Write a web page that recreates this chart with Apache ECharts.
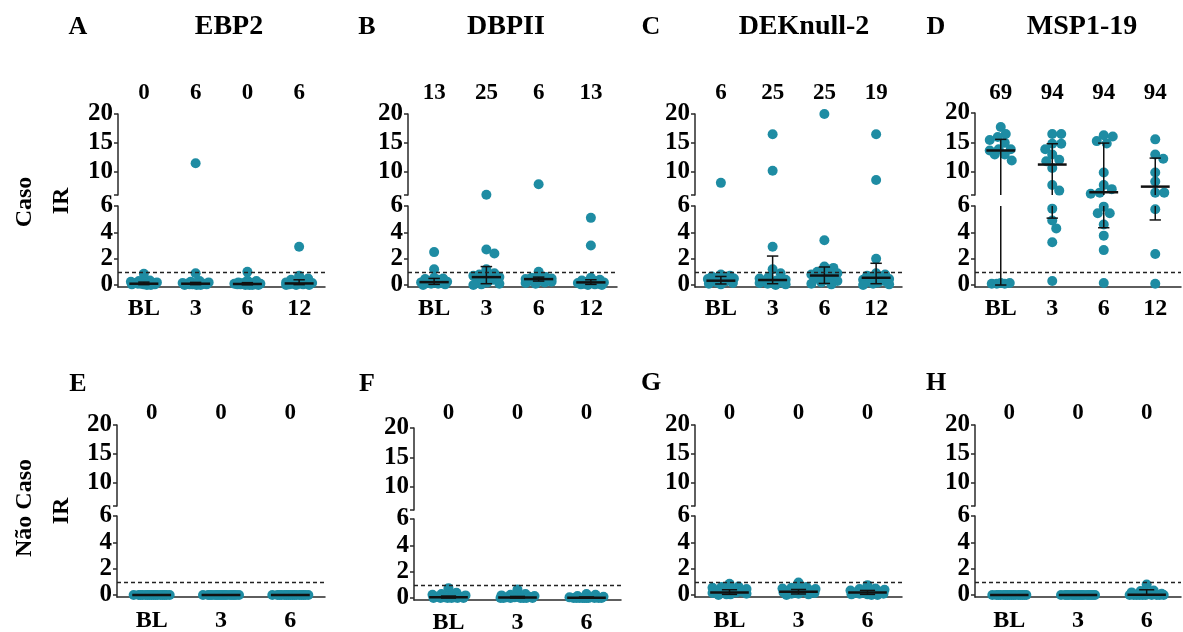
<!DOCTYPE html>
<html><head><meta charset="utf-8">
<script src="https://cdn.jsdelivr.net/npm/echarts@6/dist/echarts.min.js"></script>
<style>html,body{margin:0;padding:0;background:#fff}#c{width:1183px;height:632px}</style>
</head><body><div id="c"></div>
<script>
// ---------------- data ----------------
const cats4 = ['BL', '3', '6', '12'];
const cats3 = ['BL', '3', '6'];
const titleA = 'EBP2', titleB = 'DBPII', titleC = 'DEKnull-2', titleD = 'MSP1-19';
const rowLabelTop = 'Caso', rowLabelBottom = 'Não Caso', yLabel = 'IR';

const pctA = [0, 6, 0, 6];
const pctB = [13, 25, 6, 13];
const pctC = [6, 25, 25, 19];
const pctD = [69, 94, 94, 94];
const pctE = [0, 0, 0];
const pctF = [0, 0, 0];
const pctG = [0, 0, 0];
const pctH = [0, 0, 0];

// A - EBP2 (Caso)
const A_BL = [0.85, 0.35, 0.3, 0.25, 0.2, 0.2, 0.15, 0.15, 0.1, 0.1, 0.1, 0.05, 0.05, 0.05, 0, 0];
const A_3  = [11.5, 0.9, 0.3, 0.25, 0.2, 0.15, 0.15, 0.1, 0.1, 0.1, 0.05, 0.05, 0.05, 0, 0, 0];
const A_6  = [1.0, 0.35, 0.3, 0.2, 0.15, 0.15, 0.1, 0.1, 0.1, 0.05, 0.05, 0.05, 0, 0, 0, 0];
const A_12 = [2.9, 0.7, 0.5, 0.4, 0.3, 0.25, 0.2, 0.15, 0.15, 0.1, 0.1, 0.05, 0.05, 0, 0, 0];
const medA = [0.1, 0.1, 0.08, 0.12], q1A = [0.03, 0.03, 0.02, 0.03], q3A = [0.22, 0.2, 0.18, 0.4];

// B - DBPII (Caso)
const B_BL = [2.5, 1.2, 0.55, 0.5, 0.45, 0.4, 0.3, 0.25, 0.2, 0.2, 0.15, 0.15, 0.1, 0.1, 0.05, 0];
const B_3  = [6.05, 2.7, 2.4, 1.2, 0.9, 0.8, 0.75, 0.7, 0.6, 0.55, 0.4, 0.35, 0.2, 0.1, 0.05, 0];
const B_6  = [7.85, 1.0, 0.6, 0.55, 0.5, 0.5, 0.45, 0.4, 0.4, 0.35, 0.3, 0.3, 0.25, 0.2, 0.15, 0.1];
const B_12 = [5.1, 3.0, 0.55, 0.4, 0.35, 0.3, 0.25, 0.2, 0.15, 0.15, 0.1, 0.1, 0.05, 0.05, 0, 0];
const medB = [0.22, 0.6, 0.45, 0.2], q1B = [0.05, 0.1, 0.3, 0.05], q3B = [0.5, 1.4, 0.6, 0.4];

// C - DEKnull-2 (Caso)
const C_BL = [8.1, 0.8, 0.7, 0.65, 0.6, 0.55, 0.5, 0.45, 0.4, 0.35, 0.3, 0.25, 0.2, 0.15, 0.1, 0.05];
const C_3  = [16.5, 10.2, 2.9, 1.2, 0.9, 0.6, 0.5, 0.4, 0.35, 0.3, 0.25, 0.2, 0.15, 0.1, 0.05, 0];
const C_6  = [20, 3.4, 1.4, 1.3, 1.0, 0.95, 0.9, 0.8, 0.7, 0.6, 0.5, 0.4, 0.3, 0.2, 0.1, 0.05];
const C_12 = [16.5, 8.6, 2.0, 0.9, 0.8, 0.7, 0.6, 0.5, 0.45, 0.4, 0.3, 0.25, 0.2, 0.1, 0.05, 0];
const medC = [0.33, 0.38, 0.72, 0.55], q1C = [0.08, 0.1, 0.12, 0.1], q3C = [0.65, 2.2, 1.37, 1.65];

// D - MSP1-19 (Caso)
const D_BL = [17.6, 16.4, 15.9, 15.4, 14.9, 13.8, 13.8, 13.6, 12.9, 12.9, 11.9, 0.15, 0.15, 0.1, 0.1, 0.1];
const D_3  = [16.4, 16.4, 14.75, 14.75, 13.8, 12.9, 12.0, 11.75, 10.6, 7.7, 6.75, 5.8, 4.9, 4.3, 3.25, 0.3];
const D_6  = [16.2, 16.0, 15.2, 14.8, 9.85, 7.7, 7.0, 6.4, 6.2, 5.95, 5.45, 5.45, 4.6, 3.75, 2.65, 0.15];
const D_12 = [15.5, 12.9, 12.2, 9.85, 8.3, 6.4, 6.4, 5.75, 2.35, 0.1];
const medD = [13.6, 11.2, 6.47, 7.43], q1D = [0, 5.08, 4.35, 4.94], q3D = [15.5, 14.75, 14.86, 12.3];

// E - EBP2 (Não Caso)
const E_BL = [0, 0, 0, 0, 0, 0, 0, 0, 0, 0, 0, 0, 0, 0, 0, 0];
const E_3  = [0, 0, 0, 0, 0, 0, 0, 0, 0, 0, 0, 0, 0, 0, 0, 0];
const E_6  = [0, 0, 0, 0, 0, 0, 0, 0, 0, 0, 0, 0, 0, 0, 0, 0];
const medE = [0, 0, 0], q1E = [0, 0, 0], q3E = [0, 0, 0];

// F - DBPII (Não Caso)
const F_BL = [0.75, 0.4, 0.3, 0.25, 0.2, 0.15, 0.1, 0.1, 0.05, 0.05, 0, 0, 0, 0, 0, 0];
const F_3  = [0.65, 0.3, 0.25, 0.2, 0.15, 0.1, 0.1, 0.05, 0.05, 0, 0, 0, 0, 0, 0, 0];
const F_6  = [0.3, 0.25, 0.15, 0.1, 0.05, 0.05, 0, 0, 0, 0, 0, 0, 0, 0, 0, 0];
const medF = [0.05, 0.04, 0.02], q1F = [0, 0, 0], q3F = [0.15, 0.12, 0.08];

// G - DEKnull-2 (Não Caso)
const G_BL = [0.85, 0.65, 0.6, 0.55, 0.45, 0.4, 0.35, 0.3, 0.25, 0.2, 0.15, 0.15, 0.1, 0.05, 0.05, 0];
const G_3  = [0.95, 0.6, 0.55, 0.5, 0.45, 0.4, 0.35, 0.3, 0.3, 0.25, 0.2, 0.15, 0.1, 0.1, 0.05, 0];
const G_6  = [0.75, 0.5, 0.45, 0.4, 0.35, 0.3, 0.25, 0.2, 0.2, 0.15, 0.1, 0.1, 0.05, 0.05, 0, 0];
const medG = [0.2, 0.25, 0.2], q1G = [0.05, 0.08, 0.05], q3G = [0.4, 0.42, 0.35];

// H - MSP1-19 (Não Caso)
const H_BL = [0, 0, 0, 0, 0, 0, 0, 0, 0, 0, 0, 0, 0, 0, 0, 0];
const H_3  = [0, 0, 0, 0, 0, 0, 0, 0, 0, 0, 0, 0, 0, 0, 0, 0];
const H_6  = [0.8, 0.35, 0.3, 0.2, 0.1, 0.05, 0, 0, 0, 0, 0, 0, 0, 0, 0, 0];
const medH = [0, 0, 0.03], q1H = [0, 0, 0], q3H = [0, 0, 0.4];

const threshold = 1;
const topTicks = [6, 10, 15, 20], topLabels = [10, 15, 20];
const botTicks = [0, 2, 4, 6];
const breakValue = 6, topMax = 20;

// ---------------- assembly ----------------
const panels = [
  {letter: 'A', title: titleA, cats: cats4, pct: pctA, cols: [A_BL, A_3, A_6, A_12], med: medA, q1: q1A, q3: q3A},
  {letter: 'B', title: titleB, cats: cats4, pct: pctB, cols: [B_BL, B_3, B_6, B_12], med: medB, q1: q1B, q3: q3B},
  {letter: 'C', title: titleC, cats: cats4, pct: pctC, cols: [C_BL, C_3, C_6, C_12], med: medC, q1: q1C, q3: q3C},
  {letter: 'D', title: titleD, cats: cats4, pct: pctD, cols: [D_BL, D_3, D_6, D_12], med: medD, q1: q1D, q3: q3D},
  {letter: 'E', title: '', cats: cats3, pct: pctE, cols: [E_BL, E_3, E_6], med: medE, q1: q1E, q3: q3E},
  {letter: 'F', title: '', cats: cats3, pct: pctF, cols: [F_BL, F_3, F_6], med: medF, q1: q1F, q3: q3F},
  {letter: 'G', title: '', cats: cats3, pct: pctG, cols: [G_BL, G_3, G_6], med: medG, q1: q1G, q3: q3G},
  {letter: 'H', title: '', cats: cats3, pct: pctH, cols: [H_BL, H_3, H_6], med: medH, q1: q1H, q3: q3H}
];

// layout (pixels)
const layout = [
  {left: 118, right: 325, top: [114, 195], bot: [206, 287], pctDy: -21, labMargin: 10, letterXY: [78, 27], titleXY: [229, 27]},
  {left: 408, right: 617, top: [114, 195], bot: [206, 287], pctDy: -21, labMargin: 10, letterXY: [367, 27], titleXY: [506, 27]},
  {left: 695, right: 902, top: [114, 195], bot: [206, 287], pctDy: -21, labMargin: 10, letterXY: [651, 27], titleXY: [804, 27]},
  {left: 975, right: 1181, top: [113, 195], bot: [206, 287], pctDy: -20, labMargin: 10, letterXY: [936, 27], titleXY: [1082, 27]},
  {left: 117, right: 325, top: [425, 506], bot: [516, 597], pctDy: -12, labMargin: 12, letterXY: [78, 384]},
  {left: 414, right: 621, top: [428, 510], bot: [519, 600], pctDy: -15, labMargin: 11, letterXY: [367, 384]},
  {left: 695, right: 902, top: [425, 506], bot: [516, 597], pctDy: -12, labMargin: 12, letterXY: [651, 383]},
  {left: 975, right: 1181, top: [425, 506], bot: [516, 597], pctDy: -12, labMargin: 12, letterXY: [936, 383]}
];
const BOT_MIN = -0.15;
const FONT = '"Liberation Serif","Times New Roman",serif';
const TEAL = '#1e8ca3';
const AXC = '#2a2a2a';
const SYM = 10;

const chart = echarts.init(document.getElementById('c'), null, {renderer: 'canvas'});

function errRender(lo, hi) {
  return function (params, api) {
    const i = api.value(0), med = api.value(1), q1 = api.value(2), q3 = api.value(3);
    const cw = api.size([1, 0])[0];
    const ch = [];
    const ls = {stroke: '#111', lineWidth: 1.5};
    const a = Math.max(q1, lo), b = Math.min(q3, hi);
    if (b > a) {
      const p1 = api.coord([i, a]), p2 = api.coord([i, b]);
      ch.push({type: 'line', shape: {x1: p1[0], y1: p1[1], x2: p2[0], y2: p2[1]}, style: ls});
    }
    [q1, q3].forEach(function (q) {
      if (q >= lo && q <= hi) {
        const p = api.coord([i, q]);
        ch.push({type: 'line', shape: {x1: p[0] - 0.11 * cw, y1: p[1], x2: p[0] + 0.11 * cw, y2: p[1]}, style: ls});
      }
    });
    if (med >= lo && med <= hi) {
      const p = api.coord([i, med]);
      ch.push({type: 'line', shape: {x1: p[0] - 0.28 * cw, y1: p[1], x2: p[0] + 0.28 * cw, y2: p[1]}, style: {stroke: '#111', lineWidth: 2.5}});
    }
    return {type: 'group', children: ch};
  };
}

const grids = [], xAxes = [], yAxes = [], series = [], graphics = [], idx = [];
const labelFont = {color: '#000', fontFamily: FONT, fontWeight: 'bold'};

panels.forEach(function (p, k) {
  const L = layout[k];
  const n = p.cats.length;
  const gT = grids.length;
  grids.push({left: L.left, width: L.right - L.left, top: L.top[0], height: L.top[1] - L.top[0], outerBoundsMode: 'none', containLabel: false});
  const gB = grids.length;
  grids.push({left: L.left, width: L.right - L.left, top: L.bot[0], height: L.bot[1] - L.bot[0], outerBoundsMode: 'none', containLabel: false});

  const xT = xAxes.length;
  xAxes.push({type: 'value', gridIndex: gT, min: -0.5, max: n - 0.5, show: false});
  const xC = xAxes.length;
  xAxes.push({type: 'category', gridIndex: gB, data: p.cats, position: 'bottom', boundaryGap: true,
    axisLine: {show: true, onZero: false, lineStyle: {color: AXC, width: 1.5}},
    axisTick: {show: false}, splitLine: {show: false},
    axisLabel: Object.assign({interval: 0, margin: L.labMargin, fontSize: 24}, labelFont)});
  const xB = xAxes.length;
  xAxes.push({type: 'value', gridIndex: gB, min: -0.5, max: n - 0.5, show: false});

  const yT = yAxes.length;
  yAxes.push({type: 'value', gridIndex: gT, min: breakValue, max: topMax,
    axisLine: {show: true, onZero: false, lineStyle: {color: AXC, width: 1.5}},
    axisTick: {show: true, length: 4, customValues: topTicks, lineStyle: {color: AXC, width: 1.5}},
    axisLabel: Object.assign({customValues: topLabels, margin: 5, fontSize: 25}, labelFont),
    splitLine: {show: false}});
  const yB = yAxes.length;
  yAxes.push({type: 'value', gridIndex: gB, min: BOT_MIN, max: breakValue,
    axisLine: {show: true, onZero: false, lineStyle: {color: AXC, width: 1.5}},
    axisTick: {show: true, length: 4, customValues: botTicks, lineStyle: {color: AXC, width: 1.5}},
    axisLabel: Object.assign({customValues: botTicks, margin: 5, fontSize: 25}, labelFont),
    splitLine: {show: false}});
  idx.push({xT: xT, xB: xB, yT: yT, yB: yB});

  const errData = p.cols.map(function (c, i) { return [i, p.med[i], p.q1[i], p.q3[i]]; });

  series.push({id: 'sT' + k, type: 'scatter', xAxisIndex: xT, yAxisIndex: yT, data: [], symbolSize: SYM,
    itemStyle: {color: TEAL, opacity: 1}, clip: false, silent: true, animation: false, z: 2});
  series.push({id: 'sB' + k, type: 'scatter', xAxisIndex: xB, yAxisIndex: yB, data: [], symbolSize: SYM,
    itemStyle: {color: TEAL, opacity: 1}, clip: false, silent: true, animation: false, z: 2,
    markLine: {silent: true, symbol: ['none', 'none'], animation: false, label: {show: false},
      lineStyle: {type: [4, 3], color: '#222', width: 1.3, opacity: 1}, emphasis: {disabled: true},
      data: [{yAxis: threshold}]}});
  series.push({type: 'custom', xAxisIndex: xT, yAxisIndex: yT, data: errData, encode: {x: 0, y: 1},
    renderItem: errRender(breakValue, topMax), silent: true, animation: false, z: 3, clip: false});
  series.push({type: 'custom', xAxisIndex: xB, yAxisIndex: yB, data: errData, encode: {x: 0, y: 1},
    renderItem: errRender(0, breakValue), silent: true, animation: false, z: 3, clip: false});
  series.push({type: 'scatter', xAxisIndex: xT, yAxisIndex: yT, silent: true, animation: false,
    data: p.pct.map(function (v, i) { return [i, topMax, v]; }), symbolSize: 1,
    itemStyle: {color: 'rgba(0,0,0,0)', opacity: 1}, clip: false, z: 4,
    label: Object.assign({show: true, position: 'inside', offset: [0, L.pctDy], fontSize: 23, opacity: 1,
      textBorderWidth: 0,
      formatter: function (pr) { return String(pr.value[2]); }}, labelFont)});

  graphics.push({type: 'text', x: L.letterXY[0], y: L.letterXY[1],
    style: {text: p.letter, fill: '#000', font: 'bold 26px ' + FONT, align: 'center', verticalAlign: 'middle'}});
  if (p.title) {
    graphics.push({type: 'text', x: L.titleXY[0], y: L.titleXY[1],
      style: {text: p.title, fill: '#000', font: 'bold 28px ' + FONT, align: 'center', verticalAlign: 'middle'}});
  }
});

[[rowLabelTop, 25, 202], [yLabel, 62, 201], [rowLabelBottom, 25, 508], [yLabel, 62, 511]].forEach(function (t) {
  graphics.push({type: 'text', x: t[1], y: t[2], rotation: Math.PI / 2,
    style: {text: t[0], fill: '#000', font: 'bold 24px ' + FONT, align: 'center', verticalAlign: 'middle'}});
});

chart.setOption({
  animation: false,
  backgroundColor: '#fff',
  grid: grids, xAxis: xAxes, yAxis: yAxes, series: series, graphic: graphics
});

// ---- beeswarm placement computed through the axes' own scales ----
const R = 8.5;
const upd = [];
panels.forEach(function (p, k) {
  const ax = idx[k];
  const x0 = chart.convertToPixel({xAxisIndex: ax.xT}, 0);
  const pxUnit = chart.convertToPixel({xAxisIndex: ax.xT}, 1) - x0;
  const W = 0.26 * pxUnit;
  const topPts = [], botPts = [];
  p.cols.forEach(function (vals, i) {
    const pts = vals.map(function (v) {
      const top = v >= breakValue;
      return {v: v, top: top, py: chart.convertToPixel({yAxisIndex: top ? ax.yT : ax.yB}, v)};
    });
    pts.sort(function (a, b) { return b.v - a.v; });
    const placed = [];
    pts.forEach(function (pt) {
      let best = 0, bestS = -1;
      const lim = Math.ceil(W);
      for (let s = 0; s <= 2 * lim; s++) {
        const off = (s % 2 === 1 ? 1 : -1) * Math.ceil(s / 2);
        if (Math.abs(off) > W) continue;
        let md = Infinity;
        placed.forEach(function (q) {
          const d = Math.hypot(off - q.off, pt.py - q.py);
          if (d < md) md = d;
        });
        const sc = Math.min(md, R);
        if (sc > bestS + 1e-6) { bestS = sc; best = off; }
      }
      pt.off = best;
      placed.push(pt);
      (pt.top ? topPts : botPts).push([i + best / pxUnit, pt.v]);
    });
  });
  upd.push({id: 'sT' + k, data: topPts});
  upd.push({id: 'sB' + k, data: botPts});
});
chart.setOption({series: upd});
</script>
</body></html>
